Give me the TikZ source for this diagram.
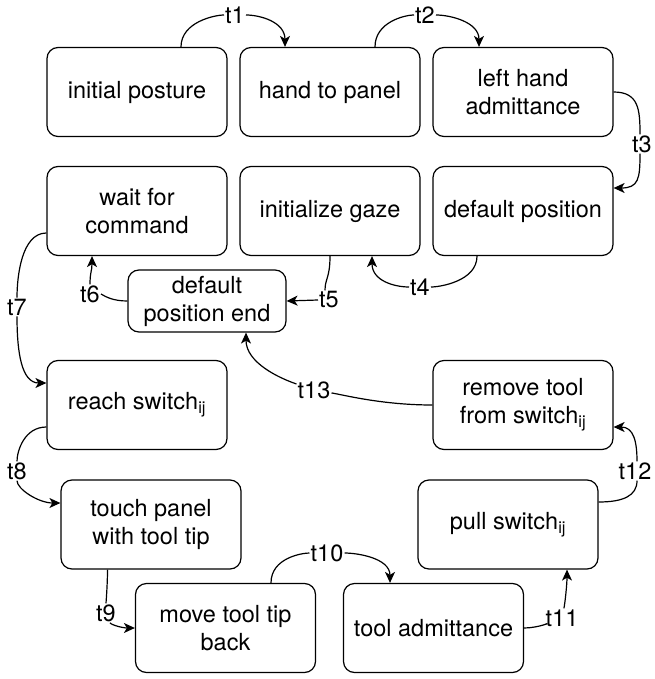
\documentclass[tikz,border=0pt]{standalone}
\usepackage{fontspec}
\setmainfont{TeX Gyre Heros}
\usetikzlibrary{arrows.meta}
\begin{document}
\begin{tikzpicture}[x=1pt,y=-1pt,
  box/.style={draw, line width=1.2pt, rounded corners=11pt, minimum width=180pt, minimum height=89pt, align=center, inner sep=2pt, font=\fontsize{23.5}{28}\selectfont},
  lbl/.style={fill=white, inner sep=1pt, font=\fontsize{23.5}{28}\selectfont},
  plain/.style={line width=1.2pt},
  edge/.style={line width=1.2pt, -{Stealth[length=11pt,width=10pt,inset=3pt]}}]
\useasboundingbox (0,0) rectangle (654,679);
% boxes
\node[box] (A) at (137,92) {initial posture};
\node[box] (B) at (330,92) {hand to panel};
\node[box] (C) at (523,92) {left hand\\admittance};
\node[box] (D) at (137,211) {wait for\\command};
\node[box] (E) at (330,211) {initialize gaze};
\node[box] (F) at (523,211) {default position};
\node[box, minimum width=158pt, minimum height=62pt] (G) at (207,301) {default\\position end};
\node[box] (H) at (137,405) {reach switch\textsubscript{ij}};
\node[box] (M) at (523,405) {remove tool\\from switch\textsubscript{ij}};
\node[box] (I) at (151,524.5) {touch panel\\with tool tip};
\node[box] (L) at (508,524.5) {pull switch\textsubscript{ij}};
\node[box] (J) at (225.5,628) {move tool tip\\back};
\node[box] (K) at (433.5,628) {tool admittance};
% labels
\node[lbl] (t1) at (235,15) {t1};
\node[lbl] (t2) at (425,15) {t2};
\node[lbl] (t3) at (642,144) {t3};
\node[lbl] (t4) at (420,287) {t4};
\node[lbl] (t5) at (329,300) {t5};
\node[lbl] (t6) at (90,294) {t6};
\node[lbl] (t7) at (17,307) {t7};
\node[lbl] (t8) at (17,471) {t8};
\node[lbl] (t9) at (106,613) {t9};
\node[lbl] (t10) at (327,553) {t10};
\node[lbl] (t11) at (562,618) {t11};
\node[lbl] (t12) at (635,471) {t12};
\node[lbl] (t13) at (314,390) {t13};
% edges
\draw[plain] ([xshift=44pt]A.north) .. controls +(0,-25) and +(-20,0) .. (t1);
\draw[edge] (t1) .. controls +(25,0) and +(0,-25) .. ([xshift=-45pt]B.north);
\draw[plain] ([xshift=45pt]B.north) .. controls +(0,-25) and +(-20,0) .. (t2);
\draw[edge] (t2) .. controls +(25,0) and +(0,-25) .. ([xshift=-44pt]C.north);
\draw[plain] (C.east) .. controls +(25,0) and +(0,-25) .. ([xshift=-2pt]t3.north);
\draw[edge] ([xshift=-2pt]t3.south) .. controls +(0,25) and +(25,0) .. ([yshift=23pt]F.east);
\draw[plain] ([xshift=-46pt]F.south) .. controls +(0,25) and +(20,0) .. (t4);
\draw[edge] (t4) .. controls +(-25,0) and +(0,25) .. ([xshift=42pt]E.south);
\draw[plain] (E.south) .. controls +(0,22) and +(0,-12) .. ([xshift=-4pt]t5.north);
\draw[edge] (t5.west) -- (G.east);
\draw[plain] (G.west) .. controls +(-14,0) and +(5,3) .. (t6.east);
\draw[edge] (t6.north) .. controls +(0,-12) and +(0,15) .. ([xshift=-45pt]D.south);
\draw[plain] ([yshift=-22pt]D.west) .. controls +(-25,0) and +(0,-30) .. (t7);
\draw[edge] (t7) .. controls +(0,45) and +(-25,0) .. ([yshift=22pt]H.west);
\draw[plain] ([yshift=-22pt]H.west) .. controls +(-22,0) and +(0,-20) .. (t8);
\draw[edge] (t8) .. controls +(0,18) and +(-22,0) .. ([yshift=21.5pt]I.west);
\draw[plain] ([xshift=-43.5pt]I.south) .. controls +(0,15) and +(0,-10) .. (t9);
\draw[edge] (t9) .. controls +(5,12) and +(-12,0) .. (J.west);
\draw[plain] ([xshift=45.5pt]J.north) .. controls +(0,-25) and +(-25,0) .. (t10);
\draw[edge] (t10) .. controls +(30,0) and +(0,-25) .. ([xshift=-43.5pt]K.north);
\draw[plain] (K.east) .. controls +(15,0) and +(-8,3) .. (t11);
\draw[edge] (t11) .. controls +(3,-15) and +(0,15) .. ([xshift=59pt]L.south);
\draw[plain] ([yshift=22.5pt]L.east) .. controls +(25,0) and +(0,15) .. ([xshift=2pt]t12.south);
\draw[edge] ([xshift=2pt]t12.north) .. controls +(0,-20) and +(20,0) .. ([yshift=-22pt]M.east);
\draw[plain] (M.west) .. controls +(-50,0) and +(30,5) .. (t13);
\draw[edge] (t13) .. controls +(-35,-12) and +(0,30) .. ([xshift=39pt]G.south);
\end{tikzpicture}
\end{document}
